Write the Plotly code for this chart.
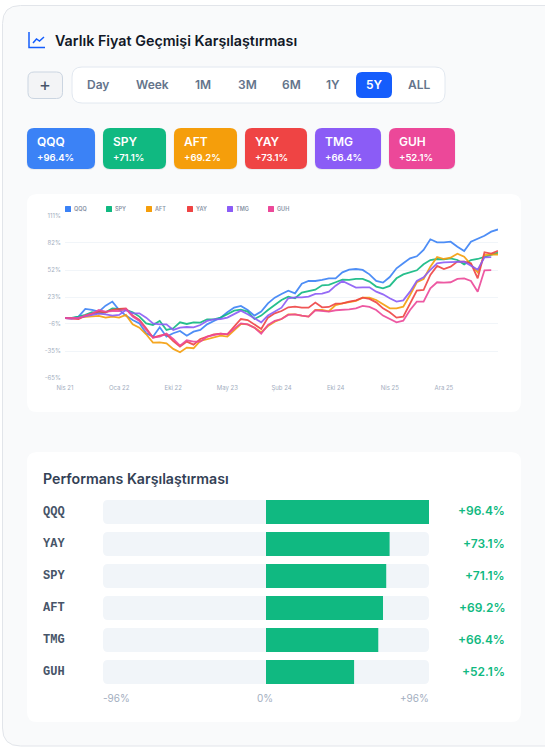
import plotly.graph_objects as go

W = 545
H = 751

tabs = ["Day", "Week", "1M", "3M", "6M", "1Y", "5Y", "ALL"]
tab_x = [98, 152, 203, 247, 291, 333, 374, 419]

names = ["QQQ", "SPY", "AFT", "YAY", "TMG", "GUH"]
colors = ["#3b82f6", "#10b981", "#f59e0b", "#ef4444", "#8b5cf6", "#ec4899"]
final = [96.4, 71.1, 69.2, 73.1, 66.4, 52.1]
chip_x = [(27, 95), (103, 166), (174, 237), (245, 307), (315, 381), (389, 455)]
legend_x = [65, 106, 146, 187, 227, 268]

# % change
qqq = [0, -0.1, 1.7, 10.0, 8.9, 7.1, 13.6, 18.0, 8.9, 2.8, -2.0, -5.6, -16.4, -20.1, -9.9, -20.1,
       -16.4, -13.9, -19.0, -14.6, -12.8, -6.7, -3.0, 0.6, 6.4, 11.5, 13.3, 8.9, 2.8, 7.1, 16.1, 22.3,
       26.3, 29.9, 27.0, 37.5, 40.4, 40.4, 41.5, 43.3, 43.3, 49.8, 52.7, 53.4, 52.4, 47.6, 40.4, 38.6,
       44.7, 54.2, 59.6, 65.0, 67.2, 74.1, 85.7, 82.4, 82.4, 83.1, 77.7, 73.0, 83.1, 86.0, 89.6, 94.0, 96.4]
spy = [0, 0.2, 1.7, 3.5, 6.4, 5.3, 6.4, 10.7, 10.0, 8.9, 6.4, 1.7, -5.6, -7.4, -3.0, -12.8,
       -11.0, -4.5, -6.3, -4.5, -4.8, -1.2, -1.2, 0.6, 4.2, 8.2, 9.3, 7.1, -0.9, 2.8, 8.9, 14.3,
       19.8, 23.4, 21.6, 27.7, 29.5, 31.0, 35.7, 36.1, 39.0, 41.9, 41.5, 42.6, 42.6, 39.7, 34.3, 32.4,
       35.0, 43.3, 47.6, 49.8, 52.0, 58.5, 63.2, 64.3, 63.9, 65.0, 63.2, 58.5, 63.2, 64.3, 66.8, 69.4, 71.1]
aft = [0, -0.1, 0.6, 1.3, 1.7, 2.4, 0.6, 1.7, 0.6, 3.5, -6.7, -10.3, -17.5, -26.6, -26.2, -27.3,
       -33.4, -37.1, -32.0, -32.7, -24.8, -23.0, -20.4, -19.0, -20.1, -12.8, -6.3, -6.7, -10.3, -15.3, -8.5, -3.8,
       -0.9, 4.2, 4.2, 2.8, 1.7, 8.9, 8.9, 7.5, 14.3, 16.1, 17.2, 18.7, 22.3, 22.3, 19.8, 15.1,
       10.7, 10.7, 12.5, 25.2, 39.0, 42.6, 56.0, 66.5, 64.3, 65.7, 70.1, 66.8, 57.8, 49.8, 68.6, 69.4, 69.2]
yay = [0, -0.5, -0.9, 2.8, 5.3, 7.1, 6.4, 8.9, 10.0, 10.7, 2.8, -2.0, -11.0, -21.1, -19.0, -17.5,
       -24.8, -30.9, -25.5, -28.7, -22.6, -20.1, -17.5, -16.8, -17.5, -9.2, -0.9, -2.0, -6.7, -11.7, 0.6, 5.3,
       7.8, 11.8, 12.5, 11.4, 11.4, 16.9, 11.8, 12.2, 15.8, 16.1, 18.0, 19.4, 22.3, 20.9, 17.2, 10.7,
       6.4, 0.6, 1.7, 16.1, 29.9, 30.6, 46.9, 56.7, 53.4, 56.0, 61.4, 61.4, 59.6, 43.3, 71.5, 70.1, 73.1]
tmg = [0, -0.4, 0.6, 2.0, 3.5, 4.9, 4.2, 2.8, 3.5, 8.9, 5.3, 5.3, 0.6, -5.6, -6.7, -6.7,
       -12.8, -10.3, -9.6, -9.9, -7.4, -3.0, -1.2, -0.9, 0.6, 4.2, 8.2, 4.2, -0.1, -4.5, 2.8, 7.1,
       11.4, 21.6, 22.7, 22.7, 23.4, 26.3, 26.6, 28.8, 35.3, 40.4, 36.8, 33.2, 33.5, 33.5, 28.8, 25.9,
       21.6, 18.0, 19.4, 28.8, 40.4, 44.4, 52.4, 59.6, 60.7, 61.0, 61.4, 61.4, 57.1, 52.7, 66.1, 66.4]
guh = [0, -0.4, -0.1, 2.8, 5.0, 8.9, 7.1, 7.8, 7.8, 10.0, 1.7, -3.0, -12.8, -21.1, -20.1, -16.8,
       -22.6, -29.8, -24.0, -25.5, -25.5, -20.1, -18.2, -16.8, -17.5, -11.7, -5.6, -6.7, -10.3, -16.8, -7.4, -3.0,
       -0.9, 3.5, 4.2, 2.8, 1.7, 8.6, 7.5, 7.1, 8.6, 8.9, 9.6, 10.7, 13.3, 12.2, 8.9, 2.8,
       -0.9, -4.5, -2.7, 8.9, 18.0, 18.0, 32.4, 39.0, 38.6, 39.0, 42.6, 43.3, 40.4, 28.8, 52.0, 52.1]
series = [qqq, spy, aft, yay, tmg, guh]

x_ticks = [0, 8, 16, 24, 32, 40, 48, 56]
x_labels = ["Nis 21", "Oca 22", "Eki 22", "May 23", "Şub 24", "Eki 24", "Nis 25", "Ara 25"]
y_ticks = [-65, -35.7, -6.3, 23, 52.3, 81.7, 111]
y_labels = ["-65%", "-35%", "-6%", "23%", "52%", "82%", "111%"]

perf_names = ["QQQ", "YAY", "SPY", "AFT", "TMG", "GUH"]
perf_values = [96.4, 73.1, 71.1, 69.2, 66.4, 52.1]


def px(x):
    return x / W


def py(y):
    return 1 - y / H


# rounded rectangle in page pixels
def box(x0, y0, x1, y1, r, fill, line=None, lw=1):
    a, b, c, d = px(x0), py(y0), px(x1), py(y1)
    rx, ry = r / W, r / H
    path = (f"M{a + rx},{b} L{c - rx},{b} Q{c},{b} {c},{b - ry} L{c},{d + ry} Q{c},{d} {c - rx},{d} "
            f"L{a + rx},{d} Q{a},{d} {a},{d + ry} L{a},{b - ry} Q{a},{b} {a + rx},{b} Z")
    return dict(type="path", path=path, xref="paper", yref="paper", fillcolor=fill, layer="below",
                line=dict(color=line if line else "rgba(0,0,0,0)", width=lw if line else 0))


def stroke(points, color, lw=1.5):
    path = "M" + " L".join(f"{px(a)},{py(b)}" for a, b in points)
    return dict(type="path", path=path, xref="paper", yref="paper", layer="above",
                line=dict(color=color, width=lw))


def text(x, y, s, size, color, weight=400, anchor="left", family="Inter"):
    return dict(x=px(x), y=py(y), xref="paper", yref="paper", text=s, showarrow=False, xanchor=anchor,
                yanchor="middle", align=anchor, borderpad=0, borderwidth=0,
                font=dict(family=family, size=size, color=color, weight=weight))


shapes = [
    box(2.5, 5.5, 565, 746, 18, "#f9fafb", "#e2e5ea", 1),
    box(27, 194, 521, 412, 10, "#ffffff"),
    box(27, 452, 521, 722, 10, "#ffffff"),
    box(28, 72, 62.5, 98.5, 6, "#f3f4f6", "#cbd5e1", 1),
    box(72, 67, 445, 103, 10, "#ffffff", "#e2e8f0", 1),
    box(356, 72, 392, 98, 6, "#155dfc"),
    stroke([(29, 32), (29, 47.5), (45, 47.5)], "#155dfc"),
    stroke([(33, 43), (36.5, 39), (39.5, 41), (44, 37)], "#155dfc"),
]
notes = [
    text(55, 40, "Varlık Fiyat Geçmişi Karşılaştırması", 14.3, "#111827", 600),
    text(44.5, 85, "+", 18, "#475569", 400, "center"),
    text(43, 478, "Performans Karşılaştırması", 14.2, "#334155", 600),
    text(103, 698, "-96%", 10, "#a3aec0"),
    text(265, 698, "0%", 10, "#a3aec0", 400, "center"),
    text(429, 698, "+96%", 10, "#a3aec0", 400, "right"),
]

for t, x in zip(tabs, tab_x):
    notes.append(text(x, 85, t, 12, "#ffffff" if t == "5Y" else "#64748b", 600, "center"))

for i, n in enumerate(names):
    x0, x1 = chip_x[i]
    shapes.append(box(x0 - 0.5, 128.5, x1 + 0.5, 170, 7, "rgba(15,23,42,0.06)"))
    shapes.append(box(x0, 128, x1, 169, 7, colors[i]))
    notes.append(text(x0 + 10, 141, n, 12, "#ffffff", 600))
    notes.append(text(x0 + 10, 157, f"+{final[i]}%", 9.5, "#ffffff", 600))
    # legend of the line chart
    lx = legend_x[i]
    shapes.append(box(lx, 206, lx + 6, 212, 0.5, colors[i]))
    notes.append(text(lx + 8.5, 209, n, 5.5, "#8a94a6", 600))

for i, n in enumerate(perf_names):
    y0 = 500 + i * 32
    shapes.append(box(103, y0, 429, y0 + 24, 5, "#f1f5f9"))
    notes.append(text(43, y0 + 12, n, 12, "#475569", 700, family="Liberation Mono"))
    notes.append(text(504.5, y0 + 11, f"+{perf_values[i]}%", 12, "#10b981", 600, "right"))

fig = go.Figure()

for n, c, s in zip(names, colors, series):
    fig.add_trace(go.Scatter(x=list(range(len(s))), y=s, name=n, mode="lines",
                             line=dict(color=c, width=1.8), opacity=0.9, xaxis="x", yaxis="y"))

fig.add_trace(go.Bar(x=perf_values, y=perf_names, orientation="h", marker=dict(color="#10b981", line=dict(width=0)),
                     width=0.75, xaxis="x2", yaxis="y2"))

fig.update_layout(
    width=W,
    height=H,
    margin=dict(l=0, r=0, t=0, b=0),
    paper_bgcolor="#ffffff",
    plot_bgcolor="rgba(0,0,0,0)",
    showlegend=False,
    shapes=shapes,
    annotations=notes,
    xaxis=dict(domain=[px(65), px(498)], range=[0, 64], tickvals=x_ticks, ticktext=x_labels, showgrid=False,
               zeroline=False, showline=False, ticks="outside", ticklen=4, tickcolor="rgba(0,0,0,0)",
               automargin=False, tickfont=dict(family="Inter", size=6, color="#a3aec0")),
    yaxis=dict(domain=[py(378), py(216)], range=[-65, 111], tickvals=y_ticks, ticktext=y_labels, showgrid=True,
               gridcolor="#f1f5f9", gridwidth=1, zeroline=False, showline=False, ticks="outside", ticklen=2,
               automargin=False, tickcolor="rgba(0,0,0,0)", tickfont=dict(family="Inter", size=6, color="#a3aec0")),
    xaxis2=dict(domain=[px(103), px(429)], range=[-96.4, 96.4], visible=False, anchor="y2", automargin=False),
    yaxis2=dict(domain=[py(688), py(496)], range=[5.5, -0.5], visible=False, anchor="x2", type="category",
                categoryorder="array", categoryarray=perf_names, automargin=False),
)

fig.write_html("out.html", config={"displayModeBar": False},
               post_script="document.body.style.margin='0';document.body.style.overflow='hidden';")
